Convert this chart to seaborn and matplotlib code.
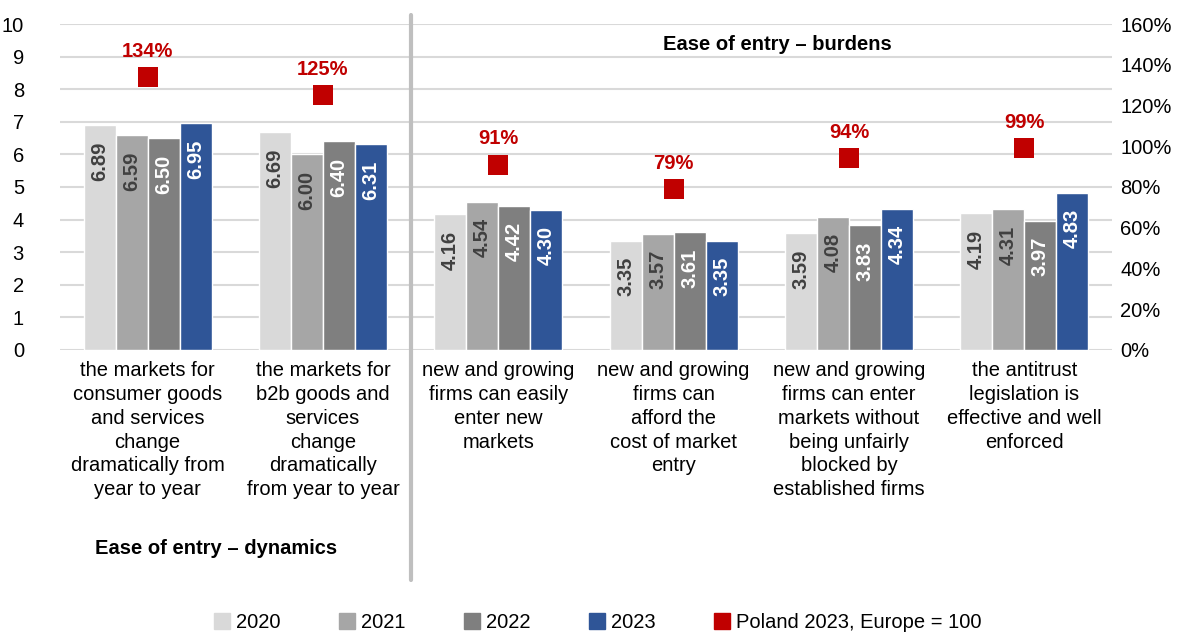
import numpy as np
import pandas as pd
import matplotlib
matplotlib.use("Agg")
import matplotlib.pyplot as plt
from matplotlib.lines import Line2D
import seaborn as sns

categories = [
    "the markets for\nconsumer goods\nand services\nchange\ndramatically from\nyear to year",
    "the markets for\nb2b goods and\nservices\nchange\ndramatically\nfrom year to year",
    "new and growing\nfirms can easily\nenter new\nmarkets",
    "new and growing\nfirms can\nafford the\ncost of market\nentry",
    "new and growing\nfirms can enter\nmarkets without\nbeing unfairly\nblocked by\nestablished firms",
    "the antitrust\nlegislation is\neffective and well\nenforced",
]
years = ["2020", "2021", "2022", "2023"]
v2020 = [6.89, 6.69, 4.16, 3.35, 3.59, 4.19]
v2021 = [6.59, 6.00, 4.54, 3.57, 4.08, 4.31]
v2022 = [6.50, 6.40, 4.42, 3.61, 3.83, 3.97]
v2023 = [6.95, 6.31, 4.30, 3.35, 4.34, 4.83]
poland_vs_europe = [134, 125, 91, 79, 94, 99]

colors = ["#D9D9D9", "#A6A6A6", "#7F7F7F", "#2F5597"]
label_colors = ["#404040", "#404040", "#FFFFFF", "#FFFFFF"]
red = "#C00000"
FS = 14.5

sns.set_theme(style="white")
plt.rcParams["font.family"] = ["Liberation Sans", "DejaVu Sans"]
plt.rcParams["text.color"] = "#000000"

rows = []
for year, vals in zip(years, [v2020, v2021, v2022, v2023]):
    for cat, v in zip(categories, vals):
        rows.append({"category": cat, "year": year, "value": v})
df = pd.DataFrame(rows)

fig = plt.figure(figsize=(11.84, 6.32), dpi=100)
ax = fig.add_axes([60 / 1184, 1 - 350 / 632, (1112 - 60) / 1184, (350 - 24) / 632])

sns.barplot(data=df, x="category", y="value", hue="year", palette=colors,
            width=0.73, ax=ax, legend=False, saturation=1, zorder=2)

ax.set_ylim(0, 10)
ax.set_yticks(range(0, 11))
ax.set_xlim(-0.5, 5.5)
ax.grid(axis="y", color="#D9D9D9", linewidth=1.5, zorder=0)
ax.set_axisbelow(True)
for s in ax.spines.values():
    s.set_visible(False)
ax.set_xlabel("")
ax.set_ylabel("")
ax.tick_params(axis="y", length=0, pad=26, labelsize=FS, labelcolor="#000000")
ax.tick_params(axis="x", length=0, pad=8, labelsize=FS, labelcolor="#000000")
for lbl in ax.get_xticklabels():
    lbl.set_linespacing(1.32)
    lbl.set_verticalalignment("top")

# value labels inside bars
for container, tcol in zip(ax.containers, label_colors):
    for bar in container:
        h = bar.get_height()
        ax.text(bar.get_x() + bar.get_width() / 2, h - 0.5, f"{h:.2f}",
                rotation=90, ha="center", va="top", fontsize=FS,
                fontweight="bold", color=tcol, zorder=3)

# Poland vs Europe markers on the secondary axis
ax2 = ax.twinx()
xpos = np.arange(len(categories))
sns.scatterplot(x=xpos, y=poland_vs_europe, marker="s", s=190, color=red,
                edgecolor=red, linewidth=0, ax=ax2, legend=False, zorder=4)
ax2.set_ylim(0, 160)
ax2.set_yticks(range(0, 161, 20))
ax2.set_yticklabels([f"{t}%" for t in range(0, 161, 20)])
ax2.tick_params(axis="y", length=0, pad=6, labelsize=FS, labelcolor="#000000")
for s in ax2.spines.values():
    s.set_visible(False)
ax2.set_xlim(-0.5, 5.5)
for x, p in zip(xpos, poland_vs_europe):
    ax2.text(x, p + 8, f"{p}%", ha="center", va="bottom", fontsize=FS,
             fontweight="bold", color=red)

# separator between the two groups
ax.axvline(1.5, ymin=(350 - 580) / 326, ymax=(350 - 15) / 326, color="#BFBFBF",
           linewidth=3, clip_on=False, zorder=1)

fig.text(777 / 1184, 1 - 45 / 632, "Ease of entry – burdens", ha="center",
         va="center", fontsize=FS, fontweight="bold", color="#000000")
fig.text(216 / 1184, 1 - 549 / 632, "Ease of entry – dynamics", ha="center",
         va="center", fontsize=FS, fontweight="bold", color="#000000")

handles = [Line2D([], [], marker="s", linestyle="", markersize=11,
                  markerfacecolor=c, markeredgecolor=c) for c in colors]
handles.append(Line2D([], [], marker="s", linestyle="", markersize=11,
                      markerfacecolor=red, markeredgecolor=red))
labels = years + ["Poland 2023, Europe = 100"]
leg = fig.legend(handles, labels, loc="center",
                 bbox_to_anchor=(598 / 1184, 1 - 623 / 632),
                 ncol=5, frameon=False, fontsize=FS, columnspacing=2.9,
                 handletextpad=0.3, handlelength=0.8)
for t in leg.get_texts():
    t.set_color("#000000")

fig.savefig("out.png", dpi=100)
